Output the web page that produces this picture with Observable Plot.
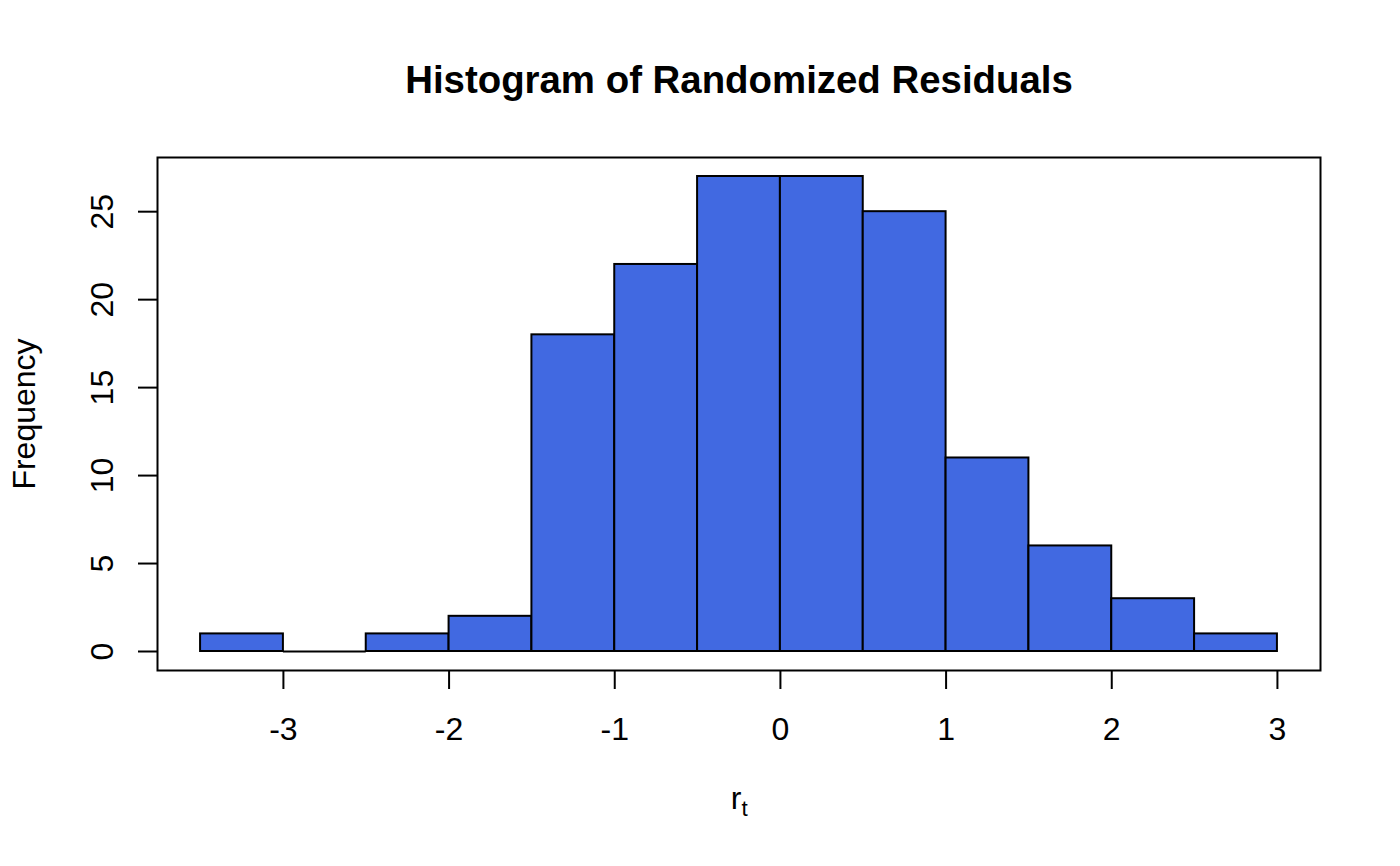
<!DOCTYPE html>
<html><head><meta charset="utf-8">
<script src="https://cdn.jsdelivr.net/npm/d3@7"></script>
<script src="https://cdn.jsdelivr.net/npm/@observablehq/plot@0.6"></script>
<style>html,body{margin:0;padding:0;background:#fff} svg{display:block}</style>
</head><body><div id="chart"></div>
<script>
// Data
const binStarts = [-3.5, -3, -2.5, -2, -1.5, -1, -0.5, 0, 0.5, 1, 1.5, 2, 2.5];
const binWidth = 0.5;
const counts = [1, 0, 1, 2, 18, 22, 27, 27, 25, 11, 6, 3, 1];
const xTicks = [-3, -2, -1, 0, 1, 2, 3];
const yTicks = [0, 5, 10, 15, 20, 25];
const title = "Histogram of Randomized Residuals";
const yLabel = "Frequency";
const xLabelMain = "r";
const xLabelSub = "t";

const bins = binStarts.map((s, i) => ({x1: s, x2: s + binWidth, count: counts[i]}));
const font = "'Liberation Sans', Arial, Helvetica, sans-serif";

const chart = Plot.plot({
  width: 1400, height: 866,
  marginLeft: 157, marginRight: 80, marginTop: 157, marginBottom: 196,
  style: {fontFamily: font, fontSize: "32px", color: "black", background: "white", overflow: "visible"},
  x: {domain: [-3.76, 3.26]},
  y: {domain: [-1.08, 28.08]},
  marks: [
    Plot.rectY(bins.filter(d => d.count > 0), {x1: "x1", x2: "x2", y1: 0, y2: "count", fill: "#4169E1", stroke: "black", strokeWidth: 2}),
    Plot.ruleY(bins.filter(d => d.count === 0), {x1: "x1", x2: "x2", y: 0, stroke: "black", strokeWidth: 2}),
    Plot.frame({stroke: "black", strokeWidth: 2}),
    Plot.axisX(xTicks, {tickSize: 19, tickPadding: 28, strokeWidth: 2, fontSize: 32, label: null, tickFormat: d => String(d)}),
    Plot.axisY(yTicks, {tickSize: 19, tickPadding: 26, tickRotate: -90, strokeWidth: 2, fontSize: 32, label: null, tickFormat: d => String(d)}),
    Plot.text([title], {text: d => d, frameAnchor: "top", dy: -92, fontWeight: "bold", fontSize: 38.4, fill: "black"}),
    Plot.text([yLabel], {text: d => d, frameAnchor: "left", textAnchor: "middle", dx: -133, rotate: -90, fontSize: 32, fill: "black"}),
    Plot.text([xLabelMain], {text: d => d, frameAnchor: "bottom", dx: -3, dy: 138, lineAnchor: "bottom", fontSize: 32, fill: "black"}),
    Plot.text([xLabelSub], {text: d => d, frameAnchor: "bottom", dx: 5.5, dy: 145, lineAnchor: "bottom", fontSize: 22.4, fill: "black"})
  ]
});
document.getElementById("chart").appendChild(chart);
</script>
</body></html>
